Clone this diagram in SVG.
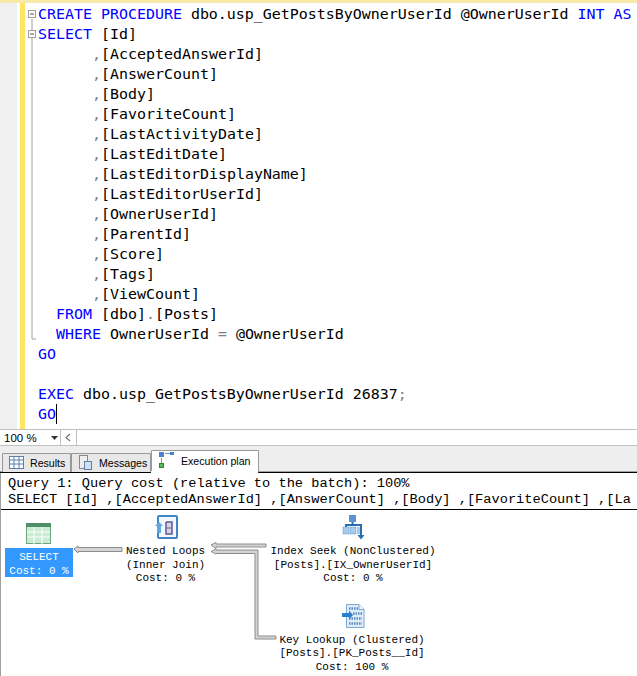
<svg xmlns="http://www.w3.org/2000/svg" width="637" height="676" viewBox="0 0 637 676">
<style>
.c{font-family:"DejaVu Sans Mono","Liberation Mono",monospace;font-size:14.95px;fill:#000}
.k{fill:#0000ff}.g{fill:#808080}
.p{font-family:"Liberation Mono",monospace;font-size:13.67px;fill:#000}
.n{font-family:"Liberation Mono",monospace;font-size:11px;fill:#000;text-anchor:middle}
.u{font-family:"Liberation Sans",sans-serif;font-size:10.600px;fill:#000}
.f{fill:#fff;stroke:#a0a0a0;stroke-width:1}
.l{fill:none;stroke:#a0a0a0;stroke-width:1}
.w{fill:#d4d4d4;stroke:#8c8c8c;stroke-width:1}
</style>
<rect width="637" height="676" fill="#fff"/>
<rect width="637" height="3" fill="#f9e9a8"/>
<rect x="0" y="3" width="17" height="426" fill="#f0f0f0"/>
<rect x="20" y="3" width="5" height="426" fill="#ffe566"/>
<g id="editor">
<path class="l" d="M32 19V30M32 38V339H36"/>
<rect class="f" x="28.500" y="10.500" width="7" height="7"/><path d="M30 14H34" stroke="#555"/>
<rect class="f" x="28.500" y="30.500" width="7" height="7"/><path d="M30 34H34" stroke="#555"/>
<text class="c" x="38" y="19"><tspan class="k">CREATE PROCEDURE</tspan> dbo.usp_GetPostsByOwnerUserId @OwnerUserId <tspan class="k">INT AS</tspan></text>
<text class="c" x="38" y="39"><tspan class="k">SELECT</tspan> [Id]</text>
<text class="c" x="92" y="59"><tspan class="g">,</tspan>[AcceptedAnswerId]</text>
<text class="c" x="92" y="79"><tspan class="g">,</tspan>[AnswerCount]</text>
<text class="c" x="92" y="99"><tspan class="g">,</tspan>[Body]</text>
<text class="c" x="92" y="119"><tspan class="g">,</tspan>[FavoriteCount]</text>
<text class="c" x="92" y="139"><tspan class="g">,</tspan>[LastActivityDate]</text>
<text class="c" x="92" y="159"><tspan class="g">,</tspan>[LastEditDate]</text>
<text class="c" x="92" y="179"><tspan class="g">,</tspan>[LastEditorDisplayName]</text>
<text class="c" x="92" y="199"><tspan class="g">,</tspan>[LastEditorUserId]</text>
<text class="c" x="92" y="219"><tspan class="g">,</tspan>[OwnerUserId]</text>
<text class="c" x="92" y="239"><tspan class="g">,</tspan>[ParentId]</text>
<text class="c" x="92" y="259"><tspan class="g">,</tspan>[Score]</text>
<text class="c" x="92" y="279"><tspan class="g">,</tspan>[Tags]</text>
<text class="c" x="92" y="299"><tspan class="g">,</tspan>[ViewCount]</text>
<text class="c" x="56" y="319"><tspan class="k">FROM</tspan> [dbo]<tspan class="g">.</tspan>[Posts]</text>
<text class="c" x="56" y="339"><tspan class="k">WHERE</tspan> OwnerUserId <tspan class="g">=</tspan> @OwnerUserId</text>
<text class="c k" x="38" y="359">GO</text>
<text class="c" x="38" y="399"><tspan class="k">EXEC</tspan> dbo.usp_GetPostsByOwnerUserId 26837<tspan class="g">;</tspan></text>
<text class="c k" x="38" y="419">GO</text>
<path d="M56.500 404V424" stroke="#000"/>
</g>
<g id="statusbar">
<path d="M0 429.500H637M0 445.500H637" stroke="#c0c0c0"/>
<text class="u" x="4" y="442" style="font-size:11.500px">100 %</text>
<path d="M51 436H58L54.500 440Z" fill="#333"/>
<path d="M60.500 430V445M76.500 430V445" stroke="#c0c0c0"/>
<path d="M70 434L66 437.500L70 441" fill="none" stroke="#777" stroke-width="1.200"/>
</g>
<g id="tabs">
<rect x="0" y="446" width="637" height="26" fill="#eeeeee"/>
<path d="M0 471.500H637" stroke="#a0a0a0"/>
<path d="M0 472.500H637" stroke="#000"/>
<path d="M2.500 472V453.500H70.500V472M71.500 472V453.500H150.500V472" fill="#e8e8e8" stroke="#999"/>
<path d="M151.500 472V450.500H258.500V472Z" fill="#fff" stroke="#999"/>
<path d="M151 472H258" stroke="#fff" stroke-width="2"/>
<rect x="9.500" y="456.500" width="14" height="12" fill="#fff" stroke="#5b7fa8"/><path d="M10 460H23M10 464H23M14 457V468M19 457V468" stroke="#5b7fa8"/>
<text class="u" x="30" y="467">Results</text>
<rect x="79.500" y="455.500" width="8" height="13" fill="#eee" stroke="#888"/><rect x="84.500" y="461.500" width="7" height="8" fill="#cfe0f2" stroke="#5b7fa8"/>
<text class="u" x="99" y="467">Messages</text>
<rect x="159" y="452" width="5" height="5" fill="#4f7fd0"/><rect x="170" y="452" width="4" height="3" fill="#4f7fd0"/><path d="M165 453.500H170M161.500 458V463" stroke="#6f8fc0"/><rect x="159.500" y="463.500" width="4" height="4" fill="#5cb85c" stroke="#2d8a2d"/>
<text class="u" x="181" y="465">Execution plan</text>
</g>
<g id="plan-header">
<text class="p" x="8" y="487">Query 1: Query cost (relative to the batch): 100%</text>
<text class="p" x="8" y="503">SELECT [Id] ,[AcceptedAnswerId] ,[AnswerCount] ,[Body] ,[FavoriteCount] ,[La</text>
<path d="M0 509.500H637" stroke="#000"/>
<path d="M0.500 473V676" stroke="#a0a0a0"/>
</g>
<g id="connectors">
<path class="w" d="M74 549L78 546V547.500H122V551.500H78V553Z"/>
<path class="w" d="M211 545L216 542.500V544H266V547H216V548.500Z"/>
<path class="w" d="M211 551.500L216 549V550H258V636H276V639H255V553.500H216V554Z"/>
</g>
<g id="node-select">
<rect x="5" y="548" width="68" height="29" fill="#3399ff"/>
<rect x="26.500" y="523.500" width="24" height="20" fill="#c9ecd2" stroke="#6aa57f"/><rect x="26" y="523" width="25" height="4" fill="#4f8f68"/>
<path d="M27 532H50M27 537H50M34 527V544M42 527V544" stroke="#fff"/>
<text class="n" x="39" y="560" style="fill:#fff">SELECT</text>
<text class="n" x="39" y="574" style="fill:#fff">Cost: 0 %</text>
</g>
<g id="node-nested-loops">
<rect x="158" y="516" width="19" height="22" rx="1" fill="#f4f8fc" stroke="#3f86c9" stroke-width="2"/>
<path d="M166 522H172V534H166V522" fill="#d9d6ea" stroke="#5a5a90" stroke-width="1.500"/>
<path d="M155 526L159 522L163 526H161V533H157V526Z" fill="#5aa9e6"/>
<path d="M167 528H171" stroke="#5a5a90"/>
<text class="n" x="165.500" y="554">Nested Loops</text>
<text class="n" x="165.500" y="568">(Inner Join)</text>
<text class="n" x="165.500" y="581">Cost: 0 %</text>
</g>
<g id="node-index-seek">
<rect x="349" y="515" width="7" height="7" fill="#5b95cf"/>
<path d="M352.500 522V525M346 528V525H361V537" fill="none" stroke="#2a6eb0" stroke-width="2"/>
<rect x="343" y="527" width="6" height="7" fill="#a9cbea" stroke="#5b95cf" stroke-width="0.500"/><rect x="350" y="527" width="6" height="7" fill="#a9cbea" stroke="#5b95cf" stroke-width="0.500"/><rect x="357" y="527" width="3" height="7" fill="#a9cbea"/>
<path d="M357.500 535H364.500L361 539.500Z" fill="#2a6eb0"/>
<text class="n" x="353" y="554">Index Seek (NonClustered)</text>
<text class="n" x="353" y="568">[Posts].[IX_OwnerUserId]</text>
<text class="n" x="353" y="581">Cost: 0 %</text>
</g>
<g id="node-key-lookup">
<path d="M346.500 604.500H359L364 609.500V627.500H346.500Z" fill="#dfecf9" stroke="#7aa8d8"/>
<path d="M359 604.500V609.500H364" fill="#eef5fc" stroke="#7aa8d8"/>
<path d="M349 608.500H358M353 613.500H362M349 618.500H362M349 623.500H362" stroke="#5f8cbf" stroke-width="2.500" stroke-dasharray="1.500 1"/>
<path d="M342 613H349V610.500L353 615L349 619.500V617H342Z" fill="#2a7fd0"/>
<text class="n" x="352" y="643">Key Lookup (Clustered)</text>
<text class="n" x="352" y="656">[Posts].[PK_Posts__Id]</text>
<text class="n" x="352" y="670">Cost: 100 %</text>
</g>
</svg>
